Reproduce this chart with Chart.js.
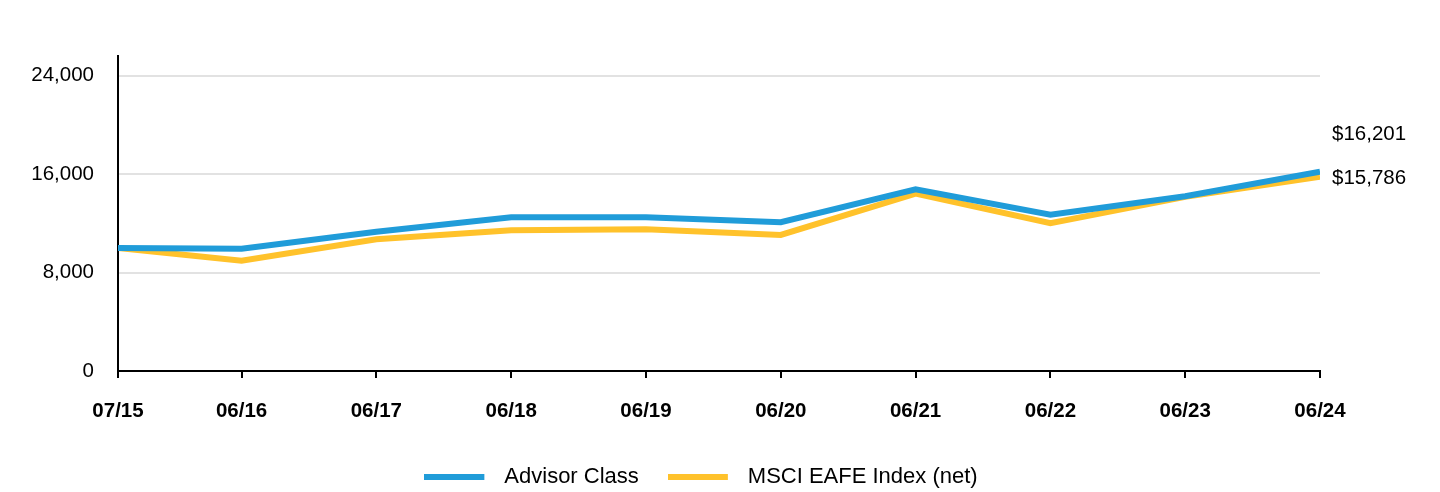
<!DOCTYPE html>
<html><head><meta charset="utf-8">
<script src="https://cdn.jsdelivr.net/npm/chart.js@4.4.1/dist/chart.umd.min.js"></script>
<style>html,body{margin:0;padding:0;background:#fff;overflow:hidden}#wrap{width:1440px;height:492px}</style>
</head><body><div id="wrap"><canvas id="c" width="1440" height="492"></canvas></div>
<script>
const categories = ['07/15','06/16','06/17','06/18','06/19','06/20','06/21','06/22','06/23','06/24'];
const advisorClass = [10000, 9940, 11320, 12490, 12500, 12090, 14760, 12700, 14200, 16201];
const msciEafe = [10000, 8970, 10700, 11430, 11520, 11060, 14410, 12010, 14150, 15786];
const yTickValues = [0, 8000, 16000, 24000];
const endLabels = ['$16,201', '$15,786'];
const seriesNames = ['Advisor Class', 'MSCI EAFE Index (net)'];
const seriesColors = ['#209CD9', '#FFC22B'];

const FONT = "'Liberation Sans', Arial, sans-serif";
const FS = 20.5;
const LEGEND_FS = 22;
function monthIndex(lbl){ const p = lbl.split('/').map(Number); return (2000 + p[1]) * 12 + p[0]; }
const offsets = categories.map(l => monthIndex(l) - monthIndex(categories[0]));

function legendSwatch(color) {
  const c = document.createElement('canvas');
  c.width = 69; c.height = 6;
  const g = c.getContext('2d');
  g.fillStyle = color;
  g.fillRect(0, 0, 60, 6);
  return c;
}
const swatches = seriesColors.map(legendSwatch);

const endLabelPlugin = {
  id: 'endLabels',
  afterLayout(chart) {
    if (chart.legend) chart.legend.left = 82;
  },
  afterDatasetsDraw(chart) {
    const ctx = chart.ctx, ys = chart.scales.y, area = chart.chartArea;
    const items = chart.data.datasets.map((d, i) => ({
      text: endLabels[i], y: ys.getPixelForValue(d.data[d.data.length - 1].y) + 2
    })).sort((a, b) => a.y - b.y);
    for (let i = items.length - 2; i >= 0; i--) {
      if (items[i].y > items[i + 1].y - 44) items[i].y = items[i + 1].y - 44;
    }
    ctx.save();
    ctx.font = FS + 'px ' + FONT;
    ctx.fillStyle = '#000';
    ctx.textAlign = 'left';
    ctx.textBaseline = 'middle';
    items.forEach(it => ctx.fillText(it.text, area.right + 12, it.y));
    ctx.restore();
  }
};

new Chart(document.getElementById('c'), {
  type: 'line',
  data: {
    datasets: [
      { label: seriesNames[0], data: offsets.map((x, i) => ({x, y: advisorClass[i]})),
        borderColor: seriesColors[0], backgroundColor: seriesColors[0], borderWidth: 6, pointRadius: 0, tension: 0 },
      { label: seriesNames[1], data: offsets.map((x, i) => ({x, y: msciEafe[i]})),
        borderColor: seriesColors[1], backgroundColor: seriesColors[1], borderWidth: 6, pointRadius: 0, tension: 0 }
    ]
  },
  options: {
    responsive: false,
    devicePixelRatio: 1,
    animation: false,
    layout: { padding: { top: 56, right: 120, left: 0, bottom: -6 } },
    plugins: {
      tooltip: { enabled: false },
      legend: {
        position: 'bottom',
        labels: {
          usePointStyle: true, pointStyleWidth: 69, boxHeight: 6, padding: 29, color: '#000',
          font: { family: FONT, size: LEGEND_FS },
          generateLabels(chart) {
            return chart.data.datasets.map((d, i) => ({
              text: d.label, datasetIndex: i, pointStyle: swatches[i],
              fillStyle: seriesColors[i], strokeStyle: seriesColors[i], lineWidth: 0,
              hidden: !chart.isDatasetVisible(i), fontColor: '#000'
            }));
          }
        }
      }
    },
    scales: {
      x: {
        type: 'linear',
        min: offsets[0], max: offsets[offsets.length - 1],
        afterBuildTicks(s) { s.ticks = offsets.map(v => ({ value: v })); },
        afterFit(s) { s.height = 66; },
        ticks: {
          autoSkip: false, maxRotation: 0, color: '#000', padding: 21.5,
          font: { family: FONT, size: FS, weight: 'bold' },
          callback(v) { const i = offsets.indexOf(v); return i >= 0 ? categories[i] : ''; }
        },
        grid: { drawOnChartArea: false, drawTicks: true, tickLength: 7, color: '#000', lineWidth: 2 },
        border: { color: '#000', width: 2 }
      },
      y: {
        min: 0, max: 25600,
        afterBuildTicks(s) { s.ticks = yTickValues.map(v => ({ value: v })); },
        afterFit(s) { s.width = 118; },
        ticks: {
          color: '#000', padding: 24,
          font: { family: FONT, size: FS },
          callback(v) { return v.toLocaleString('en-US'); }
        },
        grid: { color: '#E2E2E2', lineWidth: 2, drawTicks: false },
        border: { color: '#000', width: 2 }
      }
    }
  },
  plugins: [endLabelPlugin]
});
</script></body></html>
